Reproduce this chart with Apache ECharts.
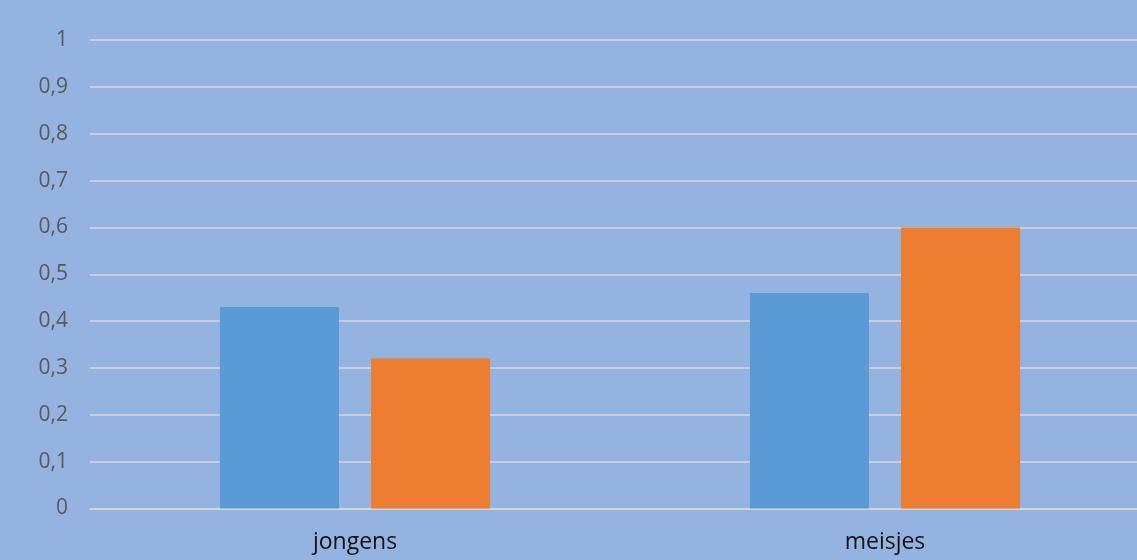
<!DOCTYPE html>
<html><head><meta charset="utf-8">
<script src="https://cdn.jsdelivr.net/npm/echarts@6/dist/echarts.min.js"></script>
<style>html,body{margin:0;padding:0;background:#95B3E1;overflow:hidden;width:1137px;height:560px}#c{width:1150px;height:560px}</style>
</head><body><div id="c"></div>
<script>
const categories = ['jongens', 'meisjes'];
const seriesBlue = [0.43, 0.46];
const seriesOrange = [0.32, 0.60];
const yTicks = [0, 0.1, 0.2, 0.3, 0.4, 0.5, 0.6, 0.7, 0.8, 0.9, 1];

const chart = echarts.init(document.getElementById('c'));
chart.setOption({
  backgroundColor: '#95B3E1',
  animation: false,
  grid: { left: 90, top: 40, right: 0, bottom: 51.5, containLabel: false },
  xAxis: {
    type: 'category', data: categories,
    axisLine: { show: true, lineStyle: { color: '#D9D9D9', width: 1.5 } },
    axisTick: { show: false },
    axisLabel: { color: '#111111', fontSize: 23, fontFamily: '"Open Sans", sans-serif', margin: 22 }
  },
  yAxis: {
    type: 'value', min: 0, max: 1, interval: 0.1,
    axisLine: { show: false }, axisTick: { show: false },
    splitLine: { lineStyle: { color: '#D9D9D9', width: 1.5 } },
    axisLabel: {
      color: '#595959', fontSize: 21, fontFamily: '"Open Sans", sans-serif', margin: 22,
      formatter: v => { const t = yTicks.find(x => Math.abs(x - v) < 1e-9); return String(Math.round((t ?? v) * 10) / 10).replace('.', ','); }
    }
  },
  series: [
    { type: 'bar', data: seriesBlue, barWidth: 119, barGap: '27%', itemStyle: { color: '#5B9BD5' } },
    { type: 'bar', data: seriesOrange, barWidth: 119, itemStyle: { color: '#ED7D31' } }
  ]
});
</script></body></html>
